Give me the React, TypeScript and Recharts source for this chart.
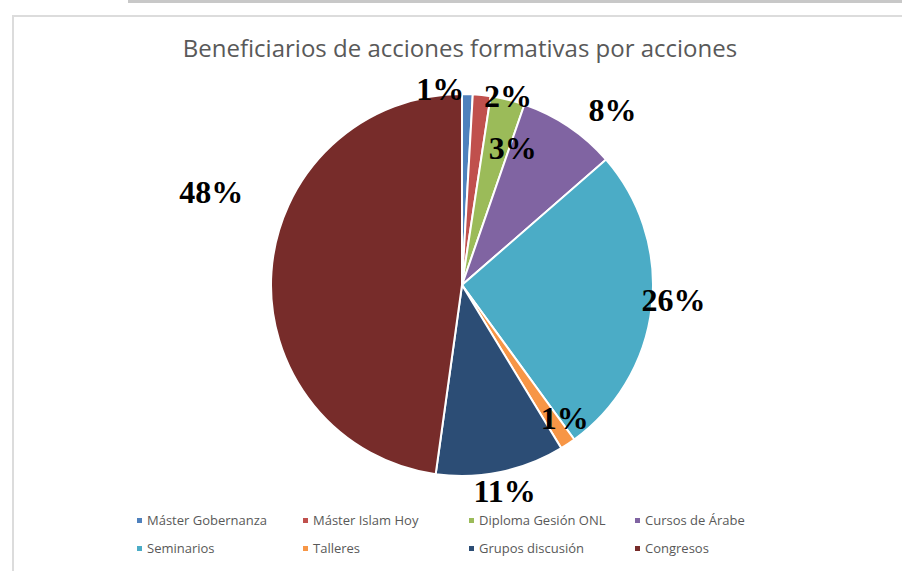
import React from "react";
import { PieChart, Pie, Cell } from "recharts";

const categories = [
  "Máster Gobernanza",
  "Máster Islam Hoy",
  "Diploma Gesión ONL",
  "Cursos de Árabe",
  "Seminarios",
  "Talleres",
  "Grupos discusión",
  "Congresos",
];
const values = [0.9, 1.5, 2.9, 8.3, 26.4, 1.3, 10.9, 47.8];
const colors = ["#4F81BD", "#C0504D", "#9BBB59", "#8064A2", "#4BACC6", "#F79646", "#2C4D75", "#772C2A"];

// label placement per slice: radius factor and clockwise angle shift (deg)
const labelPlace = [
  { r: 1.03, da: -8 },
  { r: 1.02, da: 7.7 },
  { r: 0.765, da: 6.5 },
  { r: 1.21, da: 6.6 },
  { r: 1.11, da: -2.5 },
  { r: 0.88, da: -4 },
  { r: 1.1, da: 0 },
  { r: 1.4, da: 16.4 },
];

const data = categories.map((name, i) => ({ name, value: values[i] }));
const total = values.reduce((a, b) => a + b, 0);
const RAD = Math.PI / 180;

const renderLabel = (props: any) => {
  const { cx, cy, midAngle, outerRadius, index, value } = props;
  const p = labelPlace[index];
  const ang = (midAngle - p.da) * RAD;
  const r = outerRadius * p.r;
  const x = cx + r * Math.cos(ang);
  const y = cy - r * Math.sin(ang);
  return (
    <text
      x={x}
      y={y}
      textAnchor="middle"
      dominantBaseline="central"
      fill="#000"
      fontFamily="'Liberation Serif', serif"
      fontWeight="bold"
      fontSize={32}
    >
      {Math.round((value / total) * 100) + "%"}
    </text>
  );
};

const legendRows = [categories.slice(0, 4), categories.slice(4)];

export default function App() {
  return (
    <div style={{ position: "absolute", left: 0, top: 0, width: 902, height: 571, background: "#fff", overflow: "hidden" }}>
      <div style={{ position: "absolute", left: 128, top: 0, width: 774, height: 3, background: "#c8c8c8" }} />
      <div
        style={{
          position: "absolute",
          left: 12,
          top: 15,
          width: 900,
          height: 570,
          borderLeft: "2px solid #dcdcdc",
          borderTop: "2px solid #dcdcdc",
        }}
      />
      <div
        style={{
          position: "absolute",
          left: 0,
          top: 31,
          width: 920,
          textAlign: "center",
          fontFamily: "'Open Sans', sans-serif",
          fontSize: 24,
          color: "#595959",
          whiteSpace: "nowrap",
        }}
      >
        Beneficiarios de acciones formativas por acciones
      </div>
      <div style={{ position: "absolute", left: 0, top: 0 }}>
        <PieChart width={902} height={571} margin={{ top: 0, right: 0, bottom: 0, left: 0 }}>
          <Pie
            data={data}
            dataKey="value"
            nameKey="name"
            cx={462}
            cy={285}
            outerRadius={191}
            startAngle={90}
            endAngle={-270}
            stroke="#fff"
            strokeWidth={2}
            label={renderLabel}
            labelLine={false}
            isAnimationActive={false}
          >
            {data.map((d, i) => (
              <Cell key={d.name} fill={colors[i]} />
            ))}
          </Pie>
        </PieChart>
      </div>
      {legendRows.map((row, ri) => (
        <div
          key={ri}
          style={{
            position: "absolute",
            left: 137,
            top: 511 + ri * 28,
            display: "flex",
            fontFamily: "'Open Sans', sans-serif",
            fontSize: 13,
            color: "#595959",
            whiteSpace: "nowrap",
          }}
        >
          {row.map((name) => {
            const i = categories.indexOf(name);
            return (
              <div key={name} style={{ width: 166, display: "flex", alignItems: "center" }}>
                <span style={{ width: 5, height: 5, background: colors[i], marginRight: 5, display: "inline-block" }} />
                {name}
              </div>
            );
          })}
        </div>
      ))}
    </div>
  );
}
